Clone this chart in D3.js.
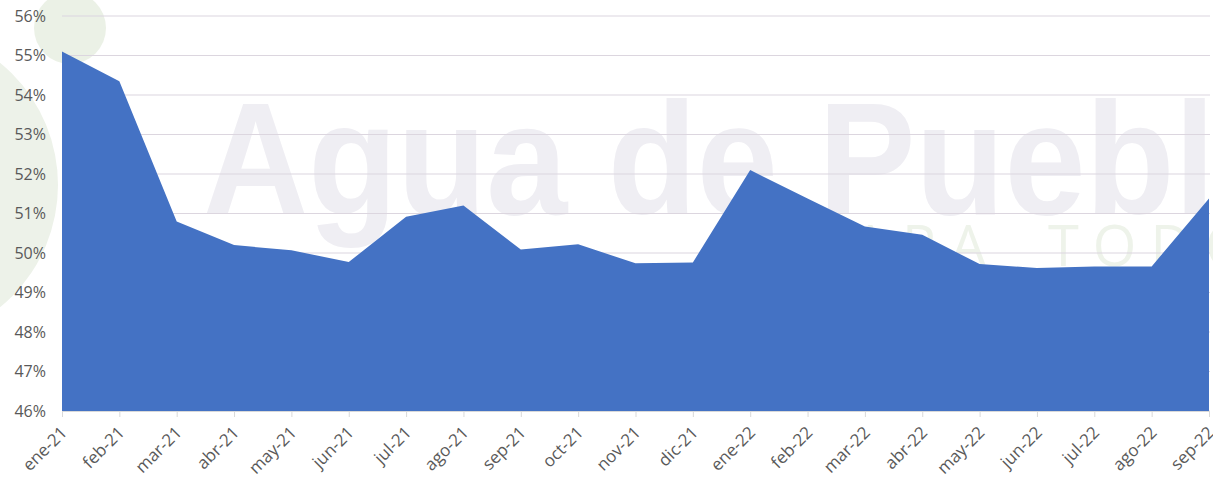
<!DOCTYPE html>
<html>
<head>
<meta charset="utf-8">
<script src="https://cdn.jsdelivr.net/npm/d3@7"></script>
<style>
  body { margin: 0; background: #ffffff; }
  #chart { width: 1213px; height: 479px; }
  text { font-family: "Open Sans", "Noto Sans", sans-serif; }
</style>
</head>
<body>
<div id="chart"></div>
<script>
// data
const months = ["ene-21","feb-21","mar-21","abr-21","may-21","jun-21","jul-21","ago-21","sep-21","oct-21","nov-21","dic-21",
                "ene-22","feb-22","mar-22","abr-22","may-22","jun-22","jul-22","ago-22","sep-22"];
const values = [55.1, 54.35, 50.8, 50.2, 50.07, 49.77, 50.92, 51.2, 50.09, 50.22, 49.74, 49.76,
                52.1, 51.38, 50.67, 50.46, 49.72, 49.62, 49.66, 49.66, 51.38];
const yTicks = [46, 47, 48, 49, 50, 51, 52, 53, 54, 55, 56];

class AreaChart {
    constructor(div_id){
        this.svg = d3.select(div_id).append("svg").attr("width", 1213).attr("height", 479);
        this.margin = {top: 16, right: 3, bottom: 68, left: 62};
        this.width = 1213 - this.margin.left - this.margin.right;
        this.height = 479 - this.margin.top - this.margin.bottom;
    }

    draw(){
        this.watermark();
        this.build_axis();
        this.draw_area();
    }

    watermark(){
        // faint logo behind the chart
        const wm = this.svg.append("g").attr("class", "watermark");
        wm.append("circle").attr("cx", 70).attr("cy", 28).attr("r", 36).attr("fill", "#ebf1e6");
        wm.append("circle").attr("cx", -100).attr("cy", 185).attr("r", 158).attr("fill", "#edf2e9");
        wm.append("text")
            .attr("x", 203).attr("y", 214)
            .attr("font-size", 160).attr("font-weight", 700)
            .style("font-family", "'Liberation Sans', Arial, sans-serif")
            .attr("fill", "#efeef3")
            .attr("textLength", 1012).attr("lengthAdjust", "spacingAndGlyphs")
            .text("Agua de Puebl");
        wm.append("text")
            .attr("x", 1000).attr("y", 266)
            .attr("text-anchor", "end")
            .attr("font-size", 56)
            .attr("fill", "#eef3ea")
            .attr("letter-spacing", 14)
            .text("PARA");
        wm.append("text")
            .attr("x", 1048).attr("y", 266)
            .attr("font-size", 56)
            .attr("fill", "#eef3ea")
            .attr("letter-spacing", 14)
            .text("TODOS");
    }

    build_axis(){
        this.xScale = d3.scalePoint()
            .domain(months)
            .range([this.margin.left, this.margin.left + this.width - 1]);
        this.yScale = d3.scaleLinear()
            .domain([46, 56])
            .range([this.margin.top + this.height, this.margin.top]);

        // gridlines
        this.svg.append("g")
            .selectAll("line")
            .data(yTicks)
            .enter().append("line")
            .attr("x1", this.margin.left)
            .attr("x2", this.margin.left + this.width)
            .attr("y1", d => this.yScale(d))
            .attr("y2", d => this.yScale(d))
            .attr("stroke", "#dcd6df")
            .attr("stroke-width", 1.2);

        // y labels
        const yAxis = d3.axisLeft(this.yScale).tickValues(yTicks).tickFormat(d => d + "%").tickSize(0).tickPadding(16);
        this.svg.append("g")
            .attr("transform", `translate(${this.margin.left},0)`)
            .call(yAxis)
            .call(g => g.select(".domain").remove())
            .selectAll("text")
            .attr("font-size", 16)
            .attr("fill", "#595959")
            .style("font-family", "'Open Sans', sans-serif");

        // x axis
        const xAxis = d3.axisBottom(this.xScale).tickSize(6).tickSizeOuter(0);
        this.x_axis = this.svg.append("g")
            .attr("transform", `translate(0,${this.margin.top + this.height})`)
            .call(xAxis);
        this.x_axis.select(".domain").attr("stroke", "#d9d9d9");
        this.x_axis.selectAll(".tick line").attr("stroke", "#d9d9d9");
        this.x_axis.selectAll("text")
            .attr("font-size", 17)
            .attr("fill", "#595959")
            .style("font-family", "'Open Sans', sans-serif")
            .attr("text-anchor", "end")
            .attr("x", -12)
            .attr("y", 20)
            .attr("dy", 0)
            .attr("transform", "rotate(-45)");
    }

    draw_area(){
        const area = d3.area()
            .x((d, i) => this.xScale(months[i]))
            .y0(this.yScale(46))
            .y1(d => this.yScale(d));
        this.svg.append("path")
            .datum(values)
            .attr("d", area)
            .attr("fill", "#4472c4");
    }
}

const chart = new AreaChart("#chart");
chart.draw();
</script>
</body>
</html>
